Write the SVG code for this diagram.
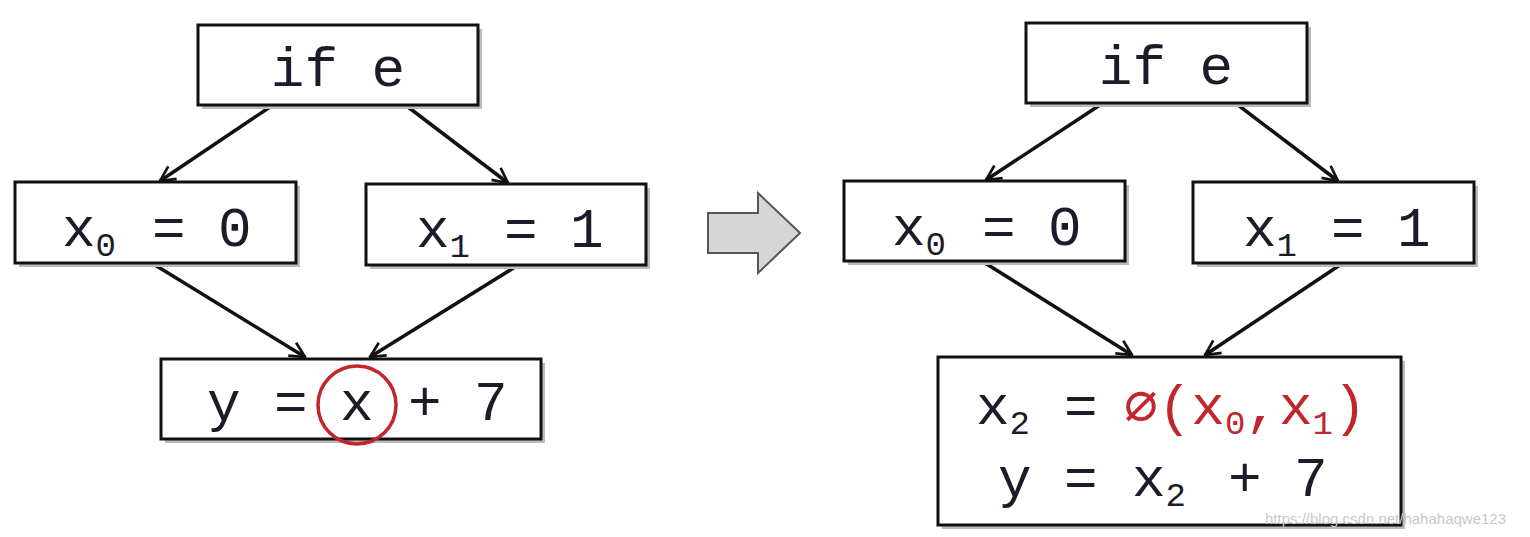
<svg xmlns="http://www.w3.org/2000/svg" width="1530" height="537" viewBox="0 0 1530 537">
<defs>
<style>
.b{fill:#fff;stroke:#111;stroke-width:3}
.s{fill:#bbb}
.t{font-family:"Liberation Mono","DejaVu Sans Mono",monospace;font-size:56px;fill:#1b1b2a}
.sub{font-size:34px}
.r{fill:#c0262b}
.c{stroke:#111;stroke-width:3.5;fill:none;marker-end:url(#a)}
</style>
<marker id="a" viewBox="0 0 12 12" refX="11" refY="6" markerWidth="18" markerHeight="18" orient="auto" markerUnits="userSpaceOnUse"><path d="M1,1 L11,6 L1,11" fill="none" stroke="#111" stroke-width="1.8"/></marker>
</defs>
<rect width="1530" height="537" fill="#fff"/>
<g id="connectors">
<line class="c" x1="270" y1="107" x2="160" y2="181"/>
<line class="c" x1="408" y1="107" x2="508" y2="183"/>
<line class="c" x1="155" y1="265" x2="305" y2="357"/>
<line class="c" x1="515" y1="267" x2="370" y2="357"/>
<line class="c" x1="1100" y1="105" x2="986" y2="180"/>
<line class="c" x1="1238" y1="105" x2="1338" y2="181"/>
<line class="c" x1="985" y1="263" x2="1132" y2="355"/>
<line class="c" x1="1340" y1="265" x2="1205" y2="355"/>
</g>
<g id="bigarrow"><path d="M708,213 H758 V193 L800,233 L758,273 V253 H708 Z" fill="#d6d6d6" stroke="#555" stroke-width="2"/></g>
<g id="L_if"><rect class="s" x="202" y="29" width="280" height="80"/><rect class="b" x="198" y="25" width="280" height="80"/><text class="t" x="338" y="86" text-anchor="middle">if e</text></g>
<g id="L_x0"><rect class="s" x="19" y="186" width="281" height="81"/><rect class="b" x="15" y="182" width="281" height="81"/><text class="t" x="62" y="246">x<tspan class="sub" dy="10">0</tspan><tspan dy="-10" x="152">=</tspan><tspan x="218">0</tspan></text></g>
<g id="L_x1"><rect class="s" x="370" y="188" width="280" height="81"/><rect class="b" x="366" y="184" width="280" height="81"/><text class="t" x="416" y="247">x<tspan class="sub" dy="10">1</tspan><tspan dy="-10" x="504">=</tspan><tspan x="570">1</tspan></text></g>
<g id="L_y"><rect class="s" x="165" y="363" width="380" height="80"/><rect class="b" x="161" y="359" width="380" height="80"/><text class="t" y="420"><tspan x="207">y</tspan><tspan x="274">=</tspan><tspan x="340">x</tspan><tspan x="408">+</tspan><tspan x="474">7</tspan></text><ellipse cx="357" cy="405" rx="39" ry="39" fill="none" stroke="#c0262b" stroke-width="3.5"/></g>
<g id="R_if"><rect class="s" x="1030" y="27" width="281" height="80"/><rect class="b" x="1026" y="23" width="281" height="80"/><text class="t" x="1166" y="84" text-anchor="middle">if e</text></g>
<g id="R_x0"><rect class="s" x="848" y="185" width="281" height="80"/><rect class="b" x="844" y="181" width="281" height="80"/><text class="t" x="892" y="245">x<tspan class="sub" dy="10">0</tspan><tspan dy="-10" x="982">=</tspan><tspan x="1048">0</tspan></text></g>
<g id="R_x1"><rect class="s" x="1197" y="186" width="281" height="81"/><rect class="b" x="1193" y="182" width="281" height="81"/><text class="t" x="1243" y="246">x<tspan class="sub" dy="10">1</tspan><tspan dy="-10" x="1331">=</tspan><tspan x="1397">1</tspan></text></g>
<g id="R_bottom"><rect class="s" x="942" y="361" width="463" height="168"/><rect class="b" x="938" y="357" width="463" height="168"/>
<text class="t" x="976" y="424">x<tspan class="sub" dy="10">2</tspan><tspan dy="-10" x="1064">=</tspan><tspan class="r" x="1124">∅(x<tspan class="sub" dy="10">0</tspan><tspan dy="-10">,x</tspan><tspan class="sub" dy="10">1</tspan><tspan dy="-10">)</tspan></tspan></text>
<text class="t" y="496"><tspan x="998">y</tspan><tspan x="1064">=</tspan><tspan x="1132">x<tspan class="sub" dy="10">2</tspan></tspan><tspan dy="-10" x="1228">+</tspan><tspan x="1294">7</tspan></text></g>
<text x="1265" y="524" font-family="Liberation Sans,sans-serif" font-size="15" fill="#c8c8c8">https://blog.csdn.net/hahahaqwe123</text>
</svg>
